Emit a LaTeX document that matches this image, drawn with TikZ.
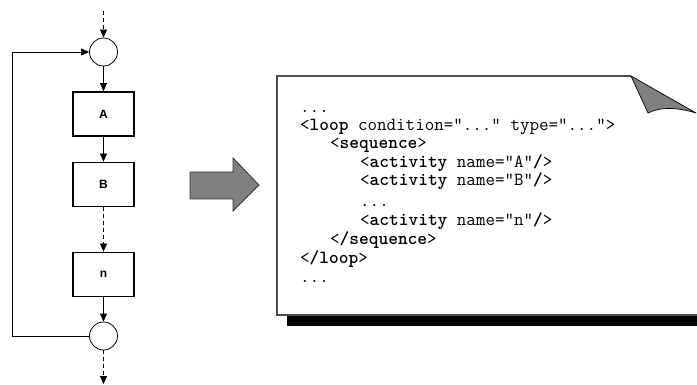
\documentclass[tikz,border=0pt]{standalone}
\usepackage{fontspec}
\newfontfamily\boxfont{Liberation Sans}
\usetikzlibrary{arrows.meta}
\begin{document}
\begin{tikzpicture}[x=1pt,y=-1pt,
  act/.style={draw,line width=1.8pt,minimum width=61pt,minimum height=44pt,inner sep=0pt,font=\boxfont\bfseries\fontsize{12}{14}\selectfont},
  junc/.style={draw,circle,line width=0.8pt,minimum size=28pt,inner sep=0pt},
  flow/.style={line width=0.8pt,-{Triangle[length=8pt,width=7pt]}},
  dflow/.style={flow,dash pattern=on 4pt off 3pt},
  code/.style={anchor=base west,inner sep=0pt,font=\ttfamily\fontsize{18.5}{20}\selectfont},
  blockarrow/.style={fill=gray,draw=black!80,line width=0.8pt,line join=miter},
  pageedge/.style={draw=black!70,line width=1.2pt}]
\useasboundingbox (0,0) rectangle (697,385);
% flow chart
\node[junc] (j1) at (103.5,52) {};
\node[act] (A) at (103.5,114) {A};
\node[act] (B) at (103.5,184.5) {B};
\node[act] (N) at (103.5,274.5) {n};
\node[junc] (j2) at (103.5,336) {};
\coordinate (in) at (103.5,11);
\coordinate (out) at (103.5,384);
\coordinate (lb) at (12,336);
\coordinate (lt) at (12,52);
\draw[dflow] (in) -- (j1);
\draw[flow] (j1) -- (A);
\draw[flow] (A) -- (B);
\draw[dflow] (B) -- (N);
\draw[flow] (N) -- (j2);
\draw[dflow] (j2) -- (out);
\draw[flow] (j2) -- (lb) -- (lt) -- (j1);
% block arrow
\draw[blockarrow] (190,172) -- (233,172) -- (233,158) -- (259,185) -- (233,211) -- (233,199) -- (190,199) -- cycle;
% page
\fill[black] (287,316) rectangle (697,326);
\draw[pageedge] (631,76) -- (277,76) -- (277,315) -- (697,315);
\draw[fill=gray,draw=black,line width=0.7pt,line join=round] (631,76) -- (696,113) .. controls (680,108) and (662,106) .. (648,113) -- cycle;
% code
\node[code] (c1) at (300,112.5) {...};
\node[code] (c2) at (300,130.5) {<\textbf{loop} condition="..." type="...">};
\node[code] (c3) at (330,148.5) {<\textbf{sequence}>};
\node[code] (c4) at (360,167.5) {<\textbf{activity} name="A"\textbf{/}>};
\node[code] (c5) at (360,186) {<\textbf{activity} name="B"\textbf{/}>};
\node[code] (c6) at (360,207) {...};
\node[code] (c7) at (360,225.5) {<\textbf{activity} name="n"\textbf{/}>};
\node[code] (c8) at (330,244.5) {<\textbf{/sequence}>};
\node[code] (c9) at (300,263) {<\textbf{/loop}>};
\node[code] (c10) at (300,282.5) {...};
\end{tikzpicture}
\end{document}
